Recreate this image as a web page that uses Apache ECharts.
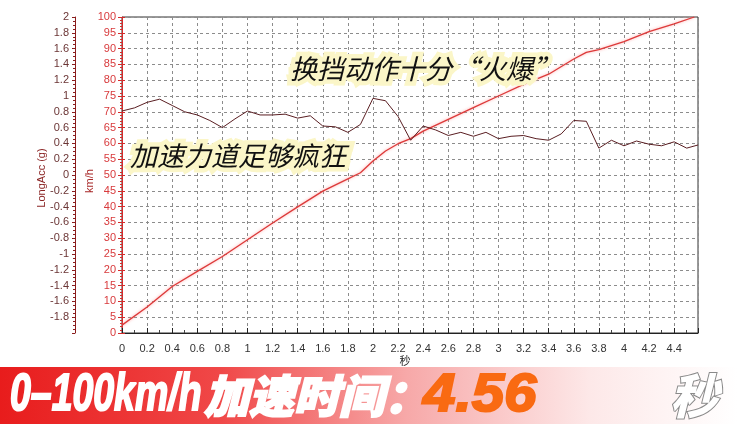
<!DOCTYPE html>
<html><head><meta charset="utf-8">
<script src="https://cdn.jsdelivr.net/npm/echarts/dist/echarts.min.js"></script>
<style>html,body{margin:0;padding:0;background:#fff}#c{width:737px;height:424px}</style>
</head><body><div id="c"></div>
<script>
// Speed (km/h) vs time (s)
const speedT = [0, 0.2, 0.4, 0.6, 0.8, 1.0, 1.2, 1.4, 1.6, 1.8, 1.9, 2.0, 2.1, 2.2, 2.3, 2.4, 2.6, 2.8, 3.0, 3.2, 3.4, 3.6, 3.7, 3.8, 4.0, 4.2, 4.4, 4.56];
const speedV = [2.5, 8.2, 14.7, 19.5, 24.2, 29.5, 34.8, 39.9, 44.9, 48.8, 50.7, 54.4, 57.6, 59.9, 61.5, 63.9, 67.6, 71.3, 75.0, 78.7, 81.9, 86.7, 88.8, 89.7, 92.2, 95.4, 97.8, 100];
// Longitudinal acceleration (g) vs time (s)
const accT = [0, 0.1, 0.2, 0.3, 0.4, 0.5, 0.6, 0.7, 0.8, 0.9, 1.0, 1.1, 1.2, 1.3, 1.4, 1.5, 1.6, 1.7, 1.8, 1.9, 2.0, 2.1, 2.2, 2.3, 2.4, 2.5, 2.6, 2.7, 2.8, 2.9, 3.0, 3.1, 3.2, 3.3, 3.4, 3.5, 3.6, 3.7, 3.8, 3.9, 4.0, 4.1, 4.2, 4.3, 4.4, 4.5, 4.59];
const accV = [0.81, 0.85, 0.92, 0.96, 0.88, 0.80, 0.76, 0.69, 0.60, 0.71, 0.81, 0.76, 0.76, 0.77, 0.72, 0.75, 0.62, 0.61, 0.54, 0.64, 0.97, 0.94, 0.74, 0.44, 0.62, 0.57, 0.50, 0.54, 0.49, 0.54, 0.46, 0.49, 0.50, 0.46, 0.44, 0.52, 0.69, 0.68, 0.34, 0.44, 0.37, 0.43, 0.39, 0.37, 0.42, 0.34, 0.38];
// Texts
const axisNameAcc = 'LongAcc (g)';
const axisNameSpeed = 'km/h';
const axisNameTime = '秒';
const note1 = '换挡动作十分“火爆”';
const note2 = '加速力道足够疯狂';
const bannerA = '0–100km/h';
const bannerB = '加速时间：';
const bannerC = '4.56';
const bannerD = '秒';

const chart = echarts.init(document.getElementById('c'), null, {renderer: 'canvas'});
const gridLine = {show: true, lineStyle: {color: '#8c8c8c', type: [3, 3], width: 1}};
const LF = 'Liberation Sans, Arial, sans-serif';
const CJK = '"Noto Sans CJK SC", sans-serif';

function note(text, x, y) {
  const base = {text: text, font: 'italic 27px ' + CJK, align: 'left', verticalAlign: 'middle', textAlign: 'left', textVerticalAlign: 'middle'};
  return [
    {type: 'text', x: x, y: y, z: 9,
     style: Object.assign({}, base, {fill: '#fbf6c8', stroke: '#fbf6c8', lineWidth: 9, lineJoin: 'round', shadowColor: '#fbf6c8', shadowBlur: 8})},
    {type: 'text', x: x, y: y, z: 10,
     style: Object.assign({}, base, {fill: '#111'})}
  ];
}
function bannerText(text, x, font, fill, scaleX, shadow, stroke) {
  return {type: 'text', x: x, y: 396, z: 12, scaleX: scaleX,
    style: {text: text, fill: fill, font: font, align: 'left', verticalAlign: 'middle', textAlign: 'left', textVerticalAlign: 'middle',
      stroke: stroke, lineWidth: 2, lineJoin: 'round',
      shadowColor: shadow, shadowBlur: 2, shadowOffsetX: 3, shadowOffsetY: 3}};
}

chart.setOption({
  animation: false,
  backgroundColor: '#ffffff',
  grid: {left: 122, right: 39, top: 17, bottom: 91, show: true, borderColor: '#333', borderWidth: 1},
  xAxis: {
    type: 'value', min: 0, max: 4.59, interval: 0.2,
    axisLine: {lineStyle: {color: '#222', width: 1}},
    axisTick: {inside: true, length: 5, lineStyle: {color: '#222'}},
    minorTick: {show: true, splitNumber: 2, length: 3, lineStyle: {color: '#444'}},
    axisLabel: {color: '#333', fontSize: 11, margin: 10, fontFamily: LF, showMaxLabel: false},
    splitLine: gridLine
  },
  yAxis: [
    {
      type: 'value', position: 'left', offset: 0, min: 0, max: 100, interval: 5,
      axisLine: {show: true, lineStyle: {color: '#d42c2c', width: 1}},
      axisTick: {show: true, length: 4, lineStyle: {color: '#d42c2c'}},
      minorTick: {show: true, splitNumber: 5, length: 2, lineStyle: {color: '#d42c2c'}},
      axisLabel: {color: '#d83a3c', fontSize: 11, margin: 6, fontFamily: LF},
      splitLine: gridLine
    },
    {
      type: 'value', position: 'left', offset: 47, min: -2, max: 2, interval: 0.2,
      axisLine: {show: true, lineStyle: {color: '#8a1d1d', width: 1}},
      axisTick: {show: true, length: 3, lineStyle: {color: '#8a1d1d'}},
      minorTick: {show: true, splitNumber: 4, length: 2, lineStyle: {color: '#8a1d1d'}},
      axisLabel: {color: '#6b3535', fontSize: 11, margin: 6, fontFamily: LF, showMinLabel: false},
      splitLine: {show: false}
    },
    {
      type: 'value', position: 'left', offset: 0, min: 0, max: 100, interval: 5,
      axisLine: {show: false},
      axisTick: {show: true, inside: true, length: 3, lineStyle: {color: '#d42c2c'}},
      axisLabel: {show: false},
      splitLine: {show: false}
    }
  ],
  series: [
    {
      type: 'line', yAxisIndex: 0, symbol: 'none', z: 3,
      data: speedT.map((t, i) => [t, speedV[i]]),
      lineStyle: {color: '#dc3a3a', width: 1.3, shadowColor: 'rgba(255,140,140,0.8)', shadowBlur: 3}
    },
    {
      type: 'line', yAxisIndex: 1, symbol: 'none', z: 4,
      data: accT.map((t, i) => [t, accV[i]]),
      lineStyle: {color: '#5a1e22', width: 1}
    }
  ],
  graphic: [
    {type: 'text', x: 42, y: 178, rotation: Math.PI / 2,
     style: {text: axisNameAcc, fill: '#8b2525', font: '11px ' + LF, align: 'center', verticalAlign: 'middle', textAlign: 'center', textVerticalAlign: 'middle'}},
    {type: 'text', x: 90, y: 181, rotation: Math.PI / 2,
     style: {text: axisNameSpeed, fill: '#a82828', font: '11px ' + LF, align: 'center', verticalAlign: 'middle', textAlign: 'center', textVerticalAlign: 'middle'}},
    {type: 'text', x: 405, y: 361,
     style: {text: axisNameTime, fill: '#222', font: '11px ' + CJK, align: 'center', verticalAlign: 'middle', textAlign: 'center', textVerticalAlign: 'middle'}}
  ].concat(note(note1, 290, 69), note(note2, 130, 156), [
    {type: 'rect', z: 1, shape: {x: 0, y: 367, width: 737, height: 57},
     style: {fill: new echarts.graphic.LinearGradient(0, 0, 1, 0, [
       {offset: 0, color: '#e81c1c'}, {offset: 0.3, color: '#f04848'}, {offset: 0.55, color: '#f7a8a8'},
       {offset: 0.8, color: '#fde8e8'}, {offset: 1, color: '#ffffff'}])}},
    bannerText(bannerA, 10, 'italic 900 52px ' + LF, '#ffffff', 0.72, 'rgba(60,0,0,0.75)', '#ffffff'),
    bannerText(bannerB, 204, 'italic 900 45px ' + CJK, '#ffffff', 1, 'rgba(60,0,0,0.75)', '#ffffff'),
    bannerText(bannerC, 423, 'italic 900 54px ' + LF, '#f96a12', 1.08, 'rgba(120,50,20,0.45)', '#f96a12'),
    bannerText(bannerD, 670, 'italic 900 48px ' + CJK, '#ffffff', 1, 'rgba(40,40,40,0.9)', '#8a8a8a')
  ])
});
</script>
</body></html>
